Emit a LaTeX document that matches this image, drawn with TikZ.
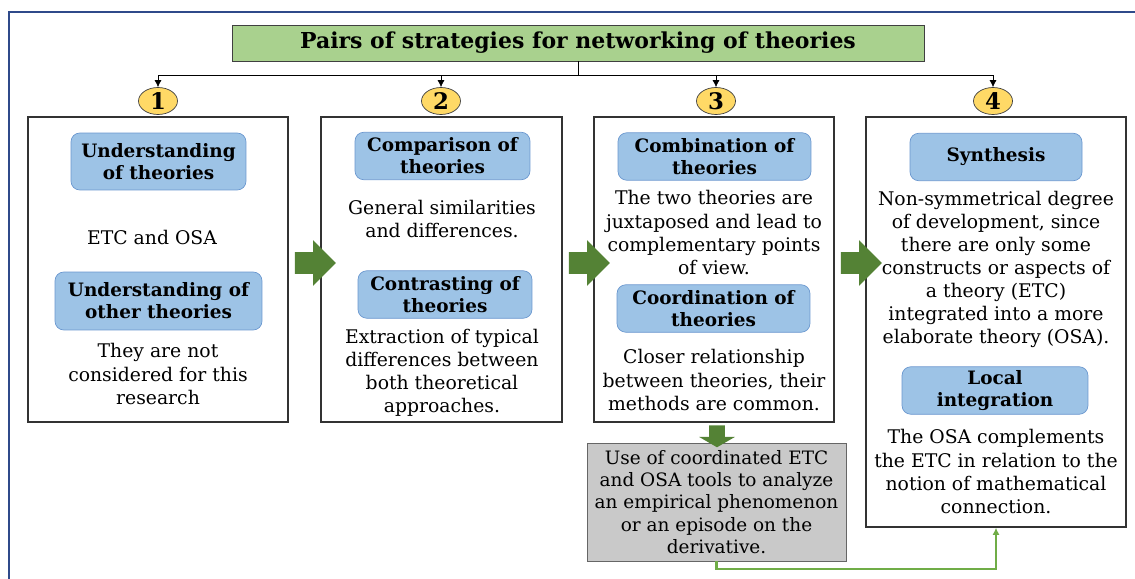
\documentclass[tikz,border=0pt]{standalone}
\usepackage{fontspec}
\setmainfont{DejaVu Serif}
\usetikzlibrary{shapes.geometric,shapes.arrows,arrows.meta,calc}
\definecolor{titlegreen}{HTML}{A9D18E}
\definecolor{pillblue}{HTML}{9DC3E6}
\definecolor{pillline}{HTML}{6A97CF}
\definecolor{numyellow}{HTML}{FFD966}
\definecolor{arrowgreen}{HTML}{548235}
\definecolor{linegreen}{HTML}{70AD47}
\definecolor{framenavy}{HTML}{2F4A8A}
\definecolor{boxgray}{HTML}{C9C9C9}

\begin{document}
\begin{tikzpicture}[x=0.02cm,y=-0.02cm,
    stage/.style={draw=black!80,line width=0.9pt,minimum height=6.1cm,inner sep=0pt},
    pill/.style={draw=pillline,fill=pillblue,rounded corners=5pt,align=center,inner sep=0pt,
      minimum height=0.95cm,font=\bfseries\fontsize{10.5}{12.5}\selectfont},
    body/.style={align=center,inner sep=0pt,font=\fontsize{10.7}{13.1}\selectfont},
    num/.style={ellipse,draw=black!75,fill=numyellow,minimum width=0.78cm,minimum height=0.54cm,
      inner sep=0pt,font=\bfseries\fontsize{13}{13}\selectfont},
    bigarrow/.style={single arrow,fill=arrowgreen,inner xsep=0pt,inner ysep=0.21cm,
      minimum height=0.82cm,minimum width=0.9cm,single arrow head extend=0.24cm}]
  \useasboundingbox (0,0) rectangle (1135,578);
  \draw[framenavy,line width=1.4pt] (9,12) rectangle (1160,600);

  \node[draw=black!75,fill=titlegreen,minimum width=13.84cm,minimum height=0.72cm,inner sep=0pt,
    font=\bfseries\fontsize{12.5}{14}\selectfont] (title) at (578,43)
    {Pairs of strategies for networking of theories};

  \node[stage,minimum width=5.2cm] (s1) at (158,269.5) {};
  \node[stage,minimum width=4.82cm] (s2) at (441.5,269.5) {};
  \node[stage,minimum width=4.8cm] (s3) at (714,269.5) {};
  \node[stage,minimum width=5.2cm,minimum height=8.2cm] (s4) at (996,322) {};
  \node[draw=black!60,fill=boxgray,minimum width=5.18cm,minimum height=2.36cm,inner sep=0pt,
    align=center,font=\fontsize{10.5}{12.6}\selectfont] (use) at (716.5,502)
    {Use of coordinated ETC\\and OSA tools to analyze\\an empirical phenomenon\\or an episode on the\\derivative.};

  \foreach \i/\x in {1/158,2/441,3/716,4/993}
    \node[num] (n\i) at (\x,101) {\i};
  \coordinate (fork) at (578,75);
  \draw (title.south) -- (fork);
  \foreach \i in {1,...,4}
    \draw[-{Latex[length=4pt,width=4pt]}] (fork) -| (n\i.north);

  \node[bigarrow] (a12) at (310,263) {};
  \node[bigarrow] (a23) at (584,263) {};
  \node[bigarrow] (a34) at (856,263) {};
  \node[bigarrow,shape border rotate=270,minimum height=0.44cm,minimum width=0.7cm,
    inner xsep=0.15cm,inner ysep=0pt,single arrow head extend=0.2cm,single arrow tip angle=120]
    (a3u) at (717,434) {};
  \draw[linegreen,line width=1.2pt,-{Latex[length=4pt,width=4pt]}] (use.south) -- ++(0,8) -| (s4.south);

  % stage 1
  \node[pill,minimum width=3.5cm,minimum height=1.14cm] (p11) at (158.5,161.5) {Understanding\\of theories};
  \node[body] (t11) at (152,237) {ETC and OSA};
  \node[pill,minimum width=4.14cm,minimum height=1.16cm] (p12) at (158.5,301) {Understanding of\\other theories};
  \node[body] (t12) at (158,374) {They are not\\considered for this\\research};
  % stage 2
  \node[pill,minimum width=3.5cm] (p21) at (442.5,156) {Comparison of\\theories};
  \node[body] (t21) at (442,218.5) {General similarities\\and differences.};
  \node[pill,minimum width=3.48cm] (p22) at (445,294.5) {Contrasting of\\theories};
  \node[body] (t22) at (442,372.5) {Extraction of typical\\differences between\\both theoretical\\approaches.};
  % stage 3
  \node[pill,minimum width=3.86cm] (p31) at (714.5,156.5) {Combination of\\theories};
  \node[body] (t31) at (714,232.5) {The two theories are\\juxtaposed and lead to\\complementary points\\of view.};
  \node[pill,minimum width=3.86cm] (p32) at (713.5,308.5) {Coordination of\\theories};
  \node[body] (t32) at (714,380) {Closer relationship\\between theories, their\\methods are common.};
  % stage 4
  \node[pill,minimum width=3.44cm] (p41) at (996,157) {Synthesis};
  \node[body] (t41) at (996,269.5) {Non-symmetrical degree\\of development, since\\there are only some\\constructs or aspects of\\a theory (ETC)\\integrated into a more\\elaborate theory (OSA).};
  \node[pill,minimum width=3.72cm] (p42) at (995,390.5) {Local\\integration};
  \node[body] (t42) at (996,471.5) {The OSA complements\\the ETC in relation to the\\notion of mathematical\\connection.};
\end{tikzpicture}
\end{document}
